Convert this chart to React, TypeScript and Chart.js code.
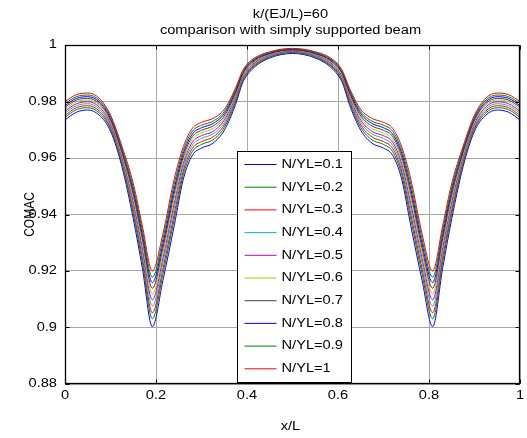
import React, { useEffect, useRef } from 'react';
import { Chart, registerables } from 'chart.js';

Chart.register(...registerables);

const xValues = [0, 0.025, 0.05, 0.075, 0.1, 0.125, 0.15, 0.17, 0.192, 0.215, 0.24, 0.26, 0.28, 0.3, 0.325, 0.35, 0.375, 0.39, 0.4, 0.41, 0.425, 0.45, 0.475, 0.5, 0.525, 0.55, 0.575, 0.59, 0.6, 0.61, 0.625, 0.65, 0.675, 0.7, 0.72, 0.74, 0.76, 0.785, 0.808, 0.83, 0.85, 0.875, 0.9, 0.925, 0.95, 0.975, 1];

const nyl01 = [0.9735, 0.9762, 0.9770, 0.9752, 0.9695, 0.9570, 0.9385, 0.9210, 0.9003, 0.9165, 0.9360, 0.9525, 0.9610, 0.9635, 0.9652, 0.9698, 0.9790, 0.9865, 0.9893, 0.9912, 0.9933, 0.9954, 0.9966, 0.9970, 0.9966, 0.9954, 0.9933, 0.9912, 0.9893, 0.9865, 0.9790, 0.9698, 0.9652, 0.9635, 0.9610, 0.9525, 0.9360, 0.9165, 0.9003, 0.9210, 0.9385, 0.9570, 0.9695, 0.9752, 0.9770, 0.9762, 0.9735];
const nyl02 = [0.9744, 0.9771, 0.9778, 0.9760, 0.9703, 0.9580, 0.9403, 0.9231, 0.9031, 0.9188, 0.9383, 0.9541, 0.9623, 0.9648, 0.9664, 0.9708, 0.9798, 0.9871, 0.9899, 0.9917, 0.9937, 0.9957, 0.9969, 0.9973, 0.9969, 0.9957, 0.9937, 0.9917, 0.9899, 0.9871, 0.9798, 0.9708, 0.9664, 0.9648, 0.9623, 0.9541, 0.9383, 0.9188, 0.9031, 0.9231, 0.9403, 0.9580, 0.9703, 0.9760, 0.9778, 0.9771, 0.9744];
const nyl03 = [0.9751, 0.9778, 0.9785, 0.9767, 0.9709, 0.9588, 0.9416, 0.9248, 0.9052, 0.9206, 0.9401, 0.9554, 0.9634, 0.9658, 0.9674, 0.9717, 0.9805, 0.9876, 0.9903, 0.9921, 0.9940, 0.9960, 0.9971, 0.9975, 0.9971, 0.9960, 0.9940, 0.9921, 0.9903, 0.9876, 0.9805, 0.9717, 0.9674, 0.9658, 0.9634, 0.9554, 0.9401, 0.9206, 0.9052, 0.9248, 0.9416, 0.9588, 0.9709, 0.9767, 0.9785, 0.9778, 0.9751];
const nyl04 = [0.9759, 0.9785, 0.9792, 0.9774, 0.9716, 0.9597, 0.9431, 0.9266, 0.9076, 0.9226, 0.9421, 0.9568, 0.9645, 0.9669, 0.9685, 0.9725, 0.9812, 0.9881, 0.9907, 0.9925, 0.9944, 0.9962, 0.9973, 0.9977, 0.9973, 0.9962, 0.9944, 0.9925, 0.9907, 0.9881, 0.9812, 0.9725, 0.9685, 0.9669, 0.9645, 0.9568, 0.9421, 0.9226, 0.9076, 0.9266, 0.9431, 0.9597, 0.9716, 0.9774, 0.9792, 0.9785, 0.9759];
const nyl05 = [0.9766, 0.9792, 0.9799, 0.9781, 0.9722, 0.9605, 0.9445, 0.9282, 0.9098, 0.9244, 0.9439, 0.9580, 0.9656, 0.9679, 0.9694, 0.9734, 0.9818, 0.9886, 0.9912, 0.9929, 0.9947, 0.9965, 0.9975, 0.9979, 0.9975, 0.9965, 0.9947, 0.9929, 0.9912, 0.9886, 0.9818, 0.9734, 0.9694, 0.9679, 0.9656, 0.9580, 0.9439, 0.9244, 0.9098, 0.9282, 0.9445, 0.9605, 0.9722, 0.9781, 0.9799, 0.9792, 0.9766];
const nyl06 = [0.9773, 0.9799, 0.9805, 0.9787, 0.9729, 0.9612, 0.9459, 0.9299, 0.9119, 0.9262, 0.9457, 0.9593, 0.9666, 0.9689, 0.9704, 0.9742, 0.9824, 0.9890, 0.9916, 0.9933, 0.9950, 0.9967, 0.9977, 0.9981, 0.9977, 0.9967, 0.9950, 0.9933, 0.9916, 0.9890, 0.9824, 0.9742, 0.9704, 0.9689, 0.9666, 0.9593, 0.9457, 0.9262, 0.9119, 0.9299, 0.9459, 0.9612, 0.9729, 0.9787, 0.9805, 0.9799, 0.9773];
const nyl07 = [0.9780, 0.9805, 0.9811, 0.9793, 0.9734, 0.9620, 0.9471, 0.9314, 0.9139, 0.9279, 0.9474, 0.9604, 0.9676, 0.9698, 0.9713, 0.9749, 0.9830, 0.9895, 0.9920, 0.9936, 0.9953, 0.9969, 0.9979, 0.9982, 0.9979, 0.9969, 0.9953, 0.9936, 0.9920, 0.9895, 0.9830, 0.9749, 0.9713, 0.9698, 0.9676, 0.9604, 0.9474, 0.9279, 0.9139, 0.9314, 0.9471, 0.9620, 0.9734, 0.9793, 0.9811, 0.9805, 0.9780];
const nyl08 = [0.9786, 0.9811, 0.9817, 0.9799, 0.9740, 0.9627, 0.9484, 0.9329, 0.9159, 0.9295, 0.9490, 0.9616, 0.9685, 0.9707, 0.9722, 0.9757, 0.9836, 0.9899, 0.9924, 0.9940, 0.9956, 0.9971, 0.9981, 0.9984, 0.9981, 0.9971, 0.9956, 0.9940, 0.9924, 0.9899, 0.9836, 0.9757, 0.9722, 0.9707, 0.9685, 0.9616, 0.9490, 0.9295, 0.9159, 0.9329, 0.9484, 0.9627, 0.9740, 0.9799, 0.9817, 0.9811, 0.9786];
const nyl09 = [0.9793, 0.9817, 0.9823, 0.9805, 0.9746, 0.9634, 0.9496, 0.9344, 0.9178, 0.9312, 0.9507, 0.9627, 0.9695, 0.9716, 0.9730, 0.9764, 0.9842, 0.9903, 0.9928, 0.9943, 0.9959, 0.9974, 0.9983, 0.9986, 0.9983, 0.9974, 0.9959, 0.9943, 0.9928, 0.9903, 0.9842, 0.9764, 0.9730, 0.9716, 0.9695, 0.9627, 0.9507, 0.9312, 0.9178, 0.9344, 0.9496, 0.9634, 0.9746, 0.9805, 0.9823, 0.9817, 0.9793];
const nyl10 = [0.9800, 0.9824, 0.9830, 0.9812, 0.9752, 0.9642, 0.9510, 0.9360, 0.9200, 0.9330, 0.9525, 0.9640, 0.9705, 0.9726, 0.9740, 0.9772, 0.9848, 0.9908, 0.9932, 0.9947, 0.9962, 0.9976, 0.9985, 0.9988, 0.9985, 0.9976, 0.9962, 0.9947, 0.9932, 0.9908, 0.9848, 0.9772, 0.9740, 0.9726, 0.9705, 0.9640, 0.9525, 0.9330, 0.9200, 0.9360, 0.9510, 0.9642, 0.9752, 0.9812, 0.9830, 0.9824, 0.9800];

const seriesValues = [nyl01, nyl02, nyl03, nyl04, nyl05, nyl06, nyl07, nyl08, nyl09, nyl10];
const seriesNames = ['N/YL=0.1', 'N/YL=0.2', 'N/YL=0.3', 'N/YL=0.4', 'N/YL=0.5', 'N/YL=0.6', 'N/YL=0.7', 'N/YL=0.8', 'N/YL=0.9', 'N/YL=1'];
const seriesColors = ['#0000ff', '#008000', '#ff0000', '#00bfbf', '#bf00bf', '#bfbf00', '#404040', '#0000ff', '#008000', '#ff0000'];

const xTicks = [0, 0.2, 0.4, 0.6, 0.8, 1];
const xTickLabels = ['0', '0.2', '0.4', '0.6', '0.8', '1'];
const yTicks = [0.88, 0.9, 0.92, 0.94, 0.96, 0.98, 1];
const yTickLabels = ['0.88', '0.9', '0.92', '0.94', '0.96', '0.98', '1'];
const titleLines = ['k/(EJ/L)=60', 'comparison with simply supported beam'];
const xAxisLabel = 'x/L';
const yAxisLabel = 'COMAC';

const FONT = '12px "Liberation Sans", Arial, sans-serif';
const SX = 1.22;

function drawText(ctx: CanvasRenderingContext2D, text: string, x: number, y: number, align: CanvasTextAlign, rotate = false) {
  ctx.save();
  ctx.translate(x, y);
  ctx.scale(SX, 1);
  if (rotate) ctx.rotate(-Math.PI / 2);
  ctx.textAlign = align;
  ctx.textBaseline = 'middle';
  ctx.fillText(text, 0, 0);
  ctx.restore();
}

const decorPlugin = {
  id: 'decor',
  afterDraw(chart: any) {
    const ctx: CanvasRenderingContext2D = chart.ctx;
    const a = chart.chartArea;
    const xs = chart.scales.x;
    const ys = chart.scales.y;
    const L = Math.round(a.left) + 0.5;
    const T = Math.round(a.top) + 0.5;
    const R = Math.round(a.right) - 0.5;
    const B = Math.round(a.bottom) - 0.5;
    ctx.save();
    ctx.strokeStyle = '#000';
    ctx.lineWidth = 1;
    ctx.beginPath();
    xTicks.forEach((v) => {
      const px = Math.round(xs.getPixelForValue(v)) + 0.5;
      ctx.moveTo(px, B); ctx.lineTo(px, B - 4);
      ctx.moveTo(px, T); ctx.lineTo(px, T + 4);
    });
    yTicks.forEach((v) => {
      const py = Math.round(ys.getPixelForValue(v)) + 0.5;
      ctx.moveTo(L, py); ctx.lineTo(L + 4, py);
      ctx.moveTo(R, py); ctx.lineTo(R - 4, py);
    });
    ctx.stroke();
    ctx.lineWidth = 1.3;
    ctx.strokeRect(L, T, R - L, B - T);

    ctx.fillStyle = '#000';
    ctx.font = FONT;
    xTickLabels.forEach((t, i) => drawText(ctx, t, xs.getPixelForValue(xTicks[i]), a.bottom + 12, 'center'));
    yTickLabels.forEach((t, i) => drawText(ctx, t, a.left - 8, ys.getPixelForValue(yTicks[i]), 'right'));

    const cx = (a.left + a.right) / 2 - 2;
    drawText(ctx, titleLines[0], cx, 15, 'center');
    drawText(ctx, titleLines[1], cx, 31, 'center');
    drawText(ctx, xAxisLabel, cx, 427, 'center');
    drawText(ctx, yAxisLabel, 30, (a.top + a.bottom) / 2, 'center', true);

    const bl = Math.round(a.left + 172) + 0.5;
    const bt = Math.round(a.top + 106) + 0.5;
    const bw = 114;
    const bh = Math.round(a.bottom - 2) - bt + 0.5;
    ctx.fillStyle = '#fff';
    ctx.fillRect(bl, bt, bw, bh);
    ctx.lineWidth = 1;
    ctx.strokeStyle = '#000';
    ctx.strokeRect(bl, bt, bw, bh);
    seriesNames.forEach((name, i) => {
      const y = bt + 13 + i * 22.7;
      ctx.strokeStyle = seriesColors[i];
      ctx.lineWidth = 1;
      ctx.beginPath();
      ctx.moveTo(bl + 7, y);
      ctx.lineTo(bl + 39, y);
      ctx.stroke();
      ctx.fillStyle = '#000';
      drawText(ctx, name, bl + 44, y, 'left');
    });
    ctx.restore();
  },
};

export default function App() {
  const ref = useRef<HTMLCanvasElement | null>(null);
  useEffect(() => {
    if (!ref.current) return;
    const datasets = seriesValues.map((vals, i) => ({
      label: seriesNames[i],
      data: xValues.map((x, j) => ({ x, y: vals[j] })),
      borderColor: seriesColors[i],
      backgroundColor: seriesColors[i],
      borderWidth: 1,
      pointRadius: 0,
      fill: false,
      cubicInterpolationMode: 'monotone' as const,
      order: seriesValues.length - 1 - i,
    }));
    const chart = new Chart(ref.current, {
      type: 'line',
      data: { datasets },
      options: {
        animation: false,
        responsive: false,
        maintainAspectRatio: false,
        layout: { padding: { top: 45, right: 7, left: 0, bottom: 0 } },
        plugins: {
          legend: { display: false },
          title: { display: false },
          tooltip: { enabled: false },
        },
        scales: {
          x: {
            type: 'linear',
            min: 0,
            max: 1,
            afterBuildTicks: (s: any) => { s.ticks = xTicks.map((v) => ({ value: v })); },
            afterFit: (s: any) => { s.height = 54; },
            ticks: { display: false },
            grid: { color: '#a8a8a8', lineWidth: 1, drawTicks: false },
            border: { display: false },
          },
          y: {
            type: 'linear',
            min: 0.88,
            max: 1,
            afterBuildTicks: (s: any) => { s.ticks = yTicks.map((v) => ({ value: v })); },
            afterFit: (s: any) => { s.width = 65; },
            ticks: { display: false },
            grid: { color: '#a8a8a8', lineWidth: 1, drawTicks: false },
            border: { display: false },
          },
        },
      },
      plugins: [decorPlugin],
    });
    return () => chart.destroy();
  }, []);
  return (
    <div style={{ position: 'absolute', left: 0, top: 0, width: 527, height: 438, background: '#fff' }}>
      <canvas ref={ref} width={527} height={438} style={{ width: 527, height: 438, display: 'block' }} />
    </div>
  );
}
